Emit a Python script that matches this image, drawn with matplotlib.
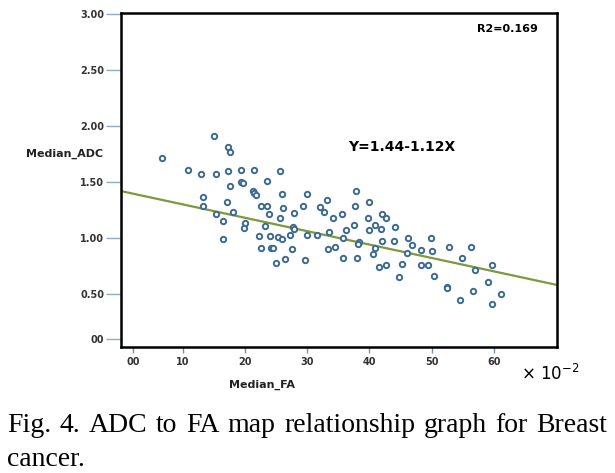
import matplotlib.pyplot as plt

# Median FA (x 10^-2) and median ADC
fa = [6.6, 15.1, 17.2, 17.6, 10.9, 13.0, 15.4, 17.2, 19.4, 21.5,
      25.7, 17.6, 19.4, 19.7, 23.6, 21.3, 21.5, 21.8, 25.9, 30.0,
      37.8, 13.3, 33.1, 13.3, 15.3, 16.5, 16.5, 17.1, 18.0, 20.0,
      19.8, 22.5, 23.6, 23.9, 23.2, 22.2, 24.0, 22.5, 24.2, 24.5,
      25.0, 26.1, 25.7, 25.3, 25.9, 26.4, 27.9, 27.7, 27.9, 27.2,
      27.5, 29.3, 30.0, 29.6, 31.6, 32.0, 32.7, 33.5, 33.3, 34.2,
      34.5, 35.6, 36.3, 35.8, 35.8, 37.7, 37.5, 38.3, 38.2, 38.0,
      39.9, 39.7, 39.9, 40.9, 42.0, 42.7, 41.8, 42.0, 40.9, 40.6,
      41.5, 42.7, 44.1, 43.9, 44.7, 46.2, 46.9, 46.1, 48.3, 49.8,
      50.0, 45.3, 48.2, 49.4, 50.4, 52.7, 52.5, 52.5, 54.9, 56.3,
      57.0, 54.6, 56.7, 59.1, 59.7, 59.7, 61.2]
adc = [1.71, 1.91, 1.81, 1.77, 1.61, 1.57, 1.57, 1.60, 1.61, 1.61,
       1.60, 1.46, 1.50, 1.49, 1.51, 1.42, 1.40, 1.38, 1.39, 1.39,
       1.42, 1.37, 1.34, 1.29, 1.21, 1.15, 0.99, 1.32, 1.23, 1.13,
       1.09, 1.29, 1.29, 1.21, 1.11, 1.02, 1.02, 0.91, 0.91, 0.91,
       0.78, 1.27, 1.18, 1.01, 0.99, 0.81, 1.22, 1.10, 1.08, 1.03,
       0.90, 1.29, 1.03, 0.80, 1.03, 1.28, 1.23, 1.05, 0.90, 1.18,
       0.92, 1.21, 1.07, 1.00, 0.82, 1.29, 1.12, 0.96, 0.95, 0.82,
       1.32, 1.18, 1.07, 1.12, 1.21, 1.18, 1.08, 0.97, 0.91, 0.86,
       0.74, 0.76, 1.10, 0.97, 0.65, 1.00, 0.94, 0.87, 0.89, 1.00,
       0.88, 0.77, 0.76, 0.76, 0.66, 0.92, 0.56, 0.55, 0.82, 0.92,
       0.71, 0.45, 0.53, 0.61, 0.76, 0.41, 0.50]

# fitted line as drawn across the frame
fit_x = [0, 70.2]
fit_y = [1.42, 0.58]

xtick_pos = [2, 10, 20, 30, 40, 50, 60]
xtick_lab = ['00', '10', '20', '30', '40', '50', '60']
ytick_pos = [3.0, 2.5, 2.0, 1.5, 1.0, 0.5, 0.1]
ytick_lab = ['3.00', '2.50', '2.00', '1.50', '1.00', '0.50', '00']

caption1 = ['Fig.', '4.', 'ADC', 'to', 'FA', 'map', 'relationship',
            'graph', 'for', 'Breast']
caption2 = 'cancer.'

W, H = 615, 473
fig = plt.figure(figsize=(6.15, 4.73), dpi=100)
ax = fig.add_axes([0.1967, 0.2664, 0.709, 0.7061])

ax.plot(fit_x, fit_y, color='#7b9a3c', lw=1.6, zorder=2)
ax.scatter(fa, adc, s=15, facecolors='white', edgecolors='#3d6a91',
           linewidths=1.4, zorder=3)

ax.set_xlim(0.08, 70.12)
ax.set_ylim(0.027, 3.009)

for s in ax.spines.values():
    s.set_linewidth(1.8)
    s.set_color('black')

ax.set_xticks(xtick_pos)
ax.set_xticklabels(xtick_lab, fontsize=7, fontweight='bold', color='#333333')
ax.set_yticks(ytick_pos)
ax.set_yticklabels(ytick_lab, fontsize=7, fontweight='bold', color='#333333')
ax.tick_params(axis='x', direction='out', length=4.5, width=1,
               color='#6f93b5', pad=3)
ax.tick_params(axis='y', direction='out', length=11, width=1,
               color='#8fadc8', pad=1)

ax.text(36.5, 1.81, 'Y=1.44-1.12X', fontsize=10, fontweight='bold',
        va='center', ha='left')
ax.text(57.3, 2.87, 'R2=0.169', fontsize=8, fontweight='bold',
        va='center', ha='left')

fig.text(103 / W, 1 - 154 / H, 'Median_ADC', fontsize=8,
         fontweight='bold', ha='right', va='center', color='#222222')
fig.text(262 / W, 1 - 385 / H, 'Median_FA', fontsize=8,
         fontweight='bold', ha='center', va='center', color='#222222')
fig.text(521 / W, 1 - 374 / H, r'$\times\ 10^{-2}$', fontsize=12,
         ha='left', va='center')

# justified caption line: spread the words between x=7 and x=607
x0, x1 = 7, 607
words = [fig.text(0, 1 - 432 / H, w, fontsize=20, family='Liberation Serif',
                  ha='left', va='baseline') for w in caption1]
r = fig.canvas.get_renderer()
widths = [t.get_window_extent(renderer=r).width for t in words]
gap = (x1 - x0 - sum(widths)) / (len(words) - 1)
x = x0
for t, wd in zip(words, widths):
    t.set_x(x / W)
    x += wd + gap
fig.text(x0 / W, 1 - 466 / H, caption2, fontsize=20,
         family='Liberation Serif', ha='left', va='baseline')

fig.savefig('out.png', dpi=100)
